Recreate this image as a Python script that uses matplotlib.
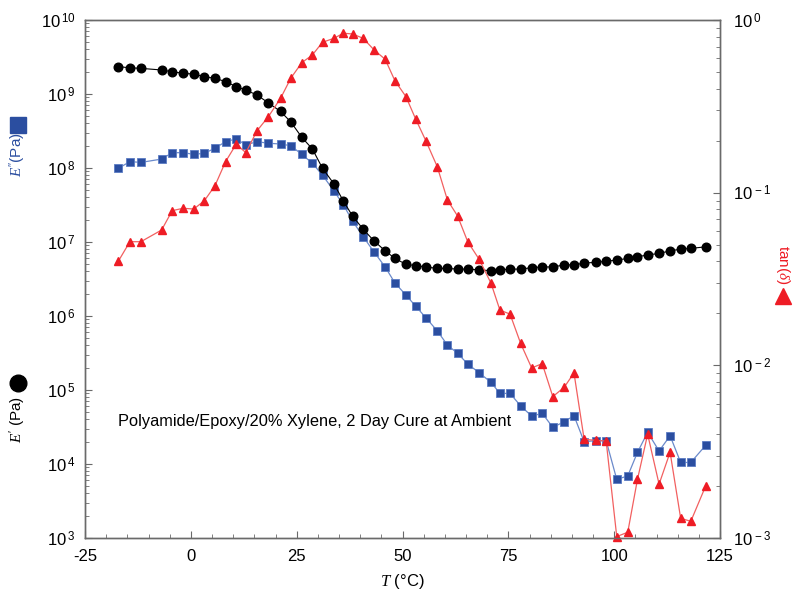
import matplotlib
matplotlib.use("Agg")
import matplotlib.pyplot as plt
import numpy as np
from matplotlib.lines import Line2D
from matplotlib.ticker import FuncFormatter, LogLocator, MultipleLocator, NullFormatter

# temperature (degC)
temp = [-17.1, -14.4, -11.8, -6.9, -4.4, -1.8, 0.7, 3.2, 5.7, 8.2, 10.7, 13.0, 15.6,
        18.3, 21.2, 23.6, 26.2, 28.7, 31.1, 33.8, 36.0, 38.2, 40.7, 43.3, 45.9, 48.2,
        50.8, 53.1, 55.5, 58.2, 60.6, 63.0, 65.4, 68.1, 70.9, 73.0, 75.4, 77.9, 80.5,
        83.0, 85.5, 88.2, 90.5, 92.9, 95.6, 98.1, 100.6, 103.2, 105.5, 107.9, 110.6,
        113.2, 115.7, 118.1, 121.6]

# storage modulus E' (Pa)
e_storage = [2.34e9, 2.26e9, 2.22e9, 2.11e9, 2.0e9, 1.90e9, 1.86e9, 1.71e9, 1.63e9,
             1.47e9, 1.26e9, 1.13e9, 9.7e8, 7.6e8, 5.8e8, 4.2e8, 2.6e8, 1.81e8, 9.9e7,
             6.1e7, 3.6e7, 2.24e7, 1.49e7, 1.03e7, 7.6e6, 6.0e6, 5.0e6, 4.8e6, 4.6e6,
             4.4e6, 4.4e6, 4.3e6, 4.3e6, 4.2e6, 4.1e6, 4.2e6, 4.3e6, 4.3e6, 4.5e6,
             4.6e6, 4.6e6, 4.9e6, 4.9e6, 5.2e6, 5.3e6, 5.5e6, 5.7e6, 6.0e6, 6.3e6,
             6.7e6, 7.0e6, 7.6e6, 8.0e6, 8.2e6, 8.6e6]

# loss modulus E'' (Pa)
e_loss = [9.9e7, 1.22e8, 1.19e8, 1.32e8, 1.61e8, 1.61e8, 1.53e8, 1.58e8, 1.85e8,
          2.27e8, 2.47e8, 2.05e8, 2.27e8, 2.16e8, 2.11e8, 2.0e8, 1.53e8, 1.16e8,
          8.0e7, 4.9e7, 3.2e7, 1.92e7, 1.18e7, 7.3e6, 4.6e6, 2.8e6, 1.92e6, 1.36e6,
          9.5e5, 6.3e5, 4.06e5, 3.13e5, 2.25e5, 1.71e5, 1.27e5, 9.0e4, 9.0e4, 6.1e4,
          4.45e4, 4.84e4, 3.13e4, 3.73e4, 4.5e4, 2.0e4, 2.07e4, 2.07e4, 6.2e3, 6.9e3,
          1.44e4, 2.68e4, 1.5e4, 2.41e4, 1.05e4, 1.05e4, 1.79e4]

# tan(delta)
tan_delta = [0.0402, 0.0520, 0.0520, 0.0608, 0.0787, 0.0812, 0.0804, 0.0899, 0.1098,
             0.1512, 0.1907, 0.1705, 0.2277, 0.2754, 0.352, 0.4597, 0.566, 0.627,
             0.743, 0.783, 0.838, 0.830, 0.783, 0.670, 0.592, 0.445, 0.360, 0.267,
             0.200, 0.1415, 0.0907, 0.0733, 0.0520, 0.0411, 0.0299, 0.0209, 0.0198,
             0.0134, 0.00966, 0.01023, 0.00659, 0.00747, 0.00904, 0.00373, 0.00368,
             0.00364, 0.00102, 0.00108, 0.00219, 0.00399, 0.00205, 0.00314, 0.00130,
             0.00125, 0.00200]

plt.rcParams["font.family"] = ["Liberation Sans", "DejaVu Sans"]
plt.rcParams["mathtext.fontset"] = "custom"
plt.rcParams["mathtext.rm"] = "Liberation Sans"
plt.rcParams["mathtext.it"] = "Liberation Serif:italic"
plt.rcParams["mathtext.bf"] = "Liberation Sans:bold"
plt.rcParams["axes.unicode_minus"] = False

BLUE = "#2b4ea0"
BLUE_LINE = "#6b8acb"
RED = "#ee1c25"
RED_LINE = "#f26060"
SPINE = "#6a6a6a"

fig = plt.figure(figsize=(7.93, 5.93), dpi=100)
ax = fig.add_axes([0.1072, 0.0927, 0.8008, 0.8736])
ax2 = ax.twinx()

ax.plot(temp, e_loss, "-", color=BLUE_LINE, linewidth=0.9, marker="s", markersize=5.5,
        markerfacecolor=BLUE, markeredgecolor="#5b7cc4", markeredgewidth=0.6, zorder=2)
ax.plot(temp, e_storage, "-", color="black", linewidth=0.8, marker="o", markersize=6.2,
        markerfacecolor="black", markeredgecolor="black", zorder=3)
ax2.plot(temp, tan_delta, "-", color=RED_LINE, linewidth=0.9, marker="^", markersize=6.3,
         markerfacecolor=RED, markeredgecolor=RED, clip_on=False)

ax.set_xlim(-25, 125)
ax.set_yscale("log")
ax.set_ylim(1e3, 1e10)
ax2.set_yscale("log")
ax2.set_ylim(1e-3, 1)


def pow10(v, pos):
    return rf"$10^{{\,{int(round(np.log10(v)))}}}$"


for a in (ax, ax2):
    a.yaxis.set_major_locator(LogLocator(base=10, numticks=20))
    a.yaxis.set_minor_locator(LogLocator(base=10, subs=np.arange(2, 10), numticks=20))
    a.yaxis.set_major_formatter(FuncFormatter(pow10))
    a.yaxis.set_minor_formatter(NullFormatter())
    for s in a.spines.values():
        s.set_color(SPINE)
        s.set_linewidth(1.0)

ax.xaxis.set_major_locator(MultipleLocator(25))
ax.xaxis.set_minor_locator(MultipleLocator(5))
ax.tick_params(which="both", direction="in", colors=SPINE, labelcolor="black", labelsize=12)
ax.tick_params(which="major", length=5)
ax.tick_params(which="minor", length=3)
ax.tick_params(axis="x", which="major", pad=8)
ax.tick_params(axis="y", which="major", pad=7)
ax.tick_params(axis="y", right=False, which="both")
ax2.tick_params(which="both", direction="in", colors=SPINE, labelcolor="black", labelsize=12)
ax2.tick_params(which="major", length=5, pad=9)
ax2.tick_params(which="minor", length=3)

ax.set_xlabel(r"$T$ (°C)", fontsize=12, labelpad=6)

ax.text(-17.3, 3.8e4, "Polyamide/Epoxy/20% Xylene, 2 Day Cure at Ambient",
        fontsize=11.8, ha="left", va="center")

# axis labels with marker keys
fig.text(18 / 793, 1 - 420 / 593, r"$E'$ (Pa)", rotation=90, ha="center", va="center",
         fontsize=11, color="black")
fig.add_artist(Line2D([18 / 793], [1 - 383 / 593], marker="o", markersize=12,
                      color="black", transform=fig.transFigure))
fig.text(18 / 793, 1 - 155 / 593, r"$E''$(Pa)", rotation=90, ha="center", va="center",
         fontsize=11, color=BLUE)
fig.add_artist(Line2D([18 / 793], [1 - 125 / 593], marker="s", markersize=11,
                      color=BLUE, transform=fig.transFigure))
fig.text(783 / 793, 1 - 265 / 593, r"tan($\delta$)", rotation=270, ha="center", va="center",
         fontsize=11, color=RED)
fig.add_artist(Line2D([783 / 793], [1 - 296 / 593], marker="^", markersize=11,
                      color=RED, transform=fig.transFigure))

fig.savefig("out.png", dpi=100, facecolor="white")
